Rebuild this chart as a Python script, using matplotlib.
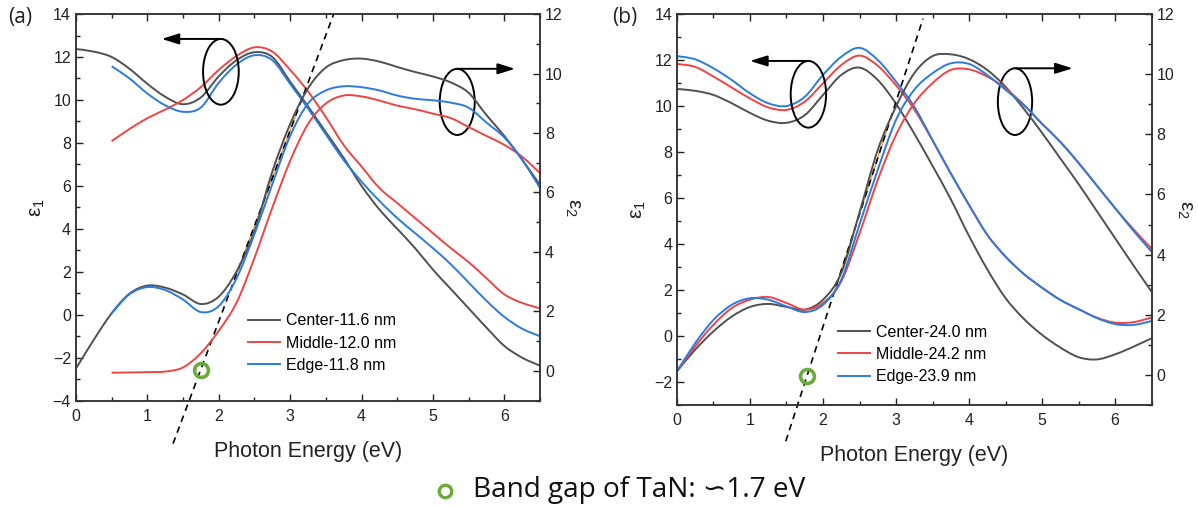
import matplotlib
matplotlib.use('Agg')
import matplotlib.pyplot as plt
from matplotlib.patches import Ellipse, PathPatch
from matplotlib.path import Path
from matplotlib.lines import Line2D
from matplotlib.ticker import MultipleLocator
import numpy as np

plt.rcParams['font.family'] = ['Liberation Sans', 'DejaVu Sans']
plt.rcParams['mathtext.fontset'] = 'custom'
plt.rcParams['mathtext.rm'] = 'Liberation Sans'
plt.rcParams['mathtext.it'] = 'Liberation Sans'

# photon energy grid (eV); some spectra only start at 0.5 eV
E_full = np.arange(0, 6.51, 0.25)
E_half = E_full[2:]

# ---- (a) ~12 nm films ----
a_eps1_center = [12.37, 12.25, 12.0, 11.45, 10.75, 10.15, 9.8, 10.12, 11.1, 11.85, 12.22, 12.0, 10.85,
                 9.7, 8.5, 7.3, 6.0, 4.9, 4.0, 3.1, 2.1, 1.2, 0.3, -0.6, -1.45, -2.0, -2.37]
a_eps1_middle = [8.08, 8.65, 9.15, 9.55, 10.0, 10.6, 11.4, 12.05, 12.45, 12.25, 11.4, 10.4, 9.2,
                 7.9, 6.9, 5.9, 5.2, 4.5, 3.8, 3.1, 2.45, 1.7, 0.95, 0.55, 0.3]
a_eps1_edge = [11.57, 11.0, 10.3, 9.75, 9.45, 9.65, 10.8, 11.65, 12.08, 11.85, 10.75, 9.6, 8.4,
               7.2, 6.2, 5.3, 4.5, 3.8, 3.1, 2.35, 1.5, 0.65, -0.1, -0.65, -1.0]
a_eps2_center = [0.08, 1.05, 1.94, 2.6, 2.87, 2.8, 2.57, 2.25, 2.5, 3.35, 4.7, 6.7, 8.3,
                 9.5, 10.2, 10.45, 10.5, 10.4, 10.22, 10.05, 9.9, 9.7, 9.35, 8.6, 7.9, 7.1, 6.25]
a_eps2_middle = [-0.06, -0.05, -0.04, -0.02, 0.12, 0.6, 1.35, 2.3, 3.8, 5.49, 7.06, 8.3, 8.99,
                 9.26, 9.23, 9.09, 8.92, 8.8, 8.65, 8.5, 8.2, 7.9, 7.6, 7.2, 6.65]
a_eps2_edge = [1.94, 2.58, 2.82, 2.72, 2.4, 1.98, 2.18, 3.12, 4.6, 6.28, 7.9, 8.99, 9.43,
               9.57, 9.54, 9.43, 9.26, 9.15, 9.1, 9.02, 8.85, 8.35, 7.85, 7.1, 6.15]
a_labels = ['Center-11.6 nm', 'Middle-12.0 nm', 'Edge-11.8 nm']
a_fit_E, a_fit_eps = [1.36, 3.61], [-6.0, 14.0]
a_gap = (1.75, -2.55)

# ---- (b) ~24 nm films ----
b_eps1_center = [10.74, 10.66, 10.48, 10.12, 9.7, 9.36, 9.27, 9.6, 10.48, 11.35, 11.67, 11.13, 10.1,
                 8.8, 7.4, 5.95, 4.35, 2.9, 1.65, 0.75, 0.05, -0.5, -0.92, -1.02, -0.8, -0.47, -0.1]
b_eps1_middle = [11.83, 11.7, 11.28, 10.8, 10.33, 9.94, 9.83, 10.19, 10.99, 11.78, 12.19, 11.75, 10.9,
                 9.85, 8.5, 7.07, 5.7, 4.4, 3.45, 2.7, 2.1, 1.57, 1.17, 0.8, 0.58, 0.6, 0.8]
b_eps1_edge = [12.17, 12.03, 11.64, 11.13, 10.55, 10.12, 10.0, 10.4, 11.35, 12.14, 12.53, 12.0, 11.06,
               9.97, 8.52, 7.07, 5.7, 4.4, 3.45, 2.7, 2.1, 1.57, 1.17, 0.78, 0.52, 0.48, 0.65]
b_eps2_center = [0.12, 0.84, 1.45, 1.94, 2.26, 2.36, 2.26, 2.17, 2.5, 3.39, 5.4, 7.48, 8.92,
                 10.03, 10.6, 10.66, 10.5, 10.14, 9.58, 8.85, 8.05, 7.2, 6.35, 5.45, 4.55, 3.65, 2.77]
b_eps2_middle = [0.12, 0.95, 1.67, 2.22, 2.5, 2.59, 2.39, 2.17, 2.39, 3.11, 4.7, 6.48, 7.98,
                 9.03, 9.7, 10.14, 10.16, 9.92, 9.53, 8.98, 8.35, 7.75, 7.05, 6.3, 5.55, 4.85, 4.2]
b_eps2_edge = [0.12, 1.06, 1.83, 2.33, 2.55, 2.5, 2.28, 2.09, 2.33, 3.16, 5.0, 6.82, 8.48,
               9.48, 10.03, 10.36, 10.34, 9.97, 9.48, 8.98, 8.35, 7.75, 7.05, 6.3, 5.55, 4.8, 4.1]
b_labels = ['Center-24.0 nm', 'Middle-24.2 nm', 'Edge-23.9 nm']
b_fit_E, b_fit_eps = [1.49, 3.37], [-4.58, 13.8]
b_gap = (1.78, -1.74)

colors = ['#505050', '#EE4444', '#2B7BDF']
green = '#6AAB3C'


def smooth_line(ax, x, y, color):
    # Catmull-Rom spline through the measured points, drawn as cubic Bezier segments
    pts = np.column_stack([x, y]).astype(float)
    ext = np.vstack([pts[0], pts, pts[-1]])
    verts, codes = [pts[0]], [Path.MOVETO]
    for i in range(len(pts) - 1):
        p0, p1, p2, p3 = ext[i], ext[i + 1], ext[i + 2], ext[i + 3]
        verts += [p1 + (p2 - p0) / 6, p2 - (p3 - p1) / 6, p2]
        codes += [Path.CURVE4] * 3
    ax.add_patch(PathPatch(Path(verts, codes), fill=False, ec=color, lw=1.4))


def draw_panel(ax, eps1, E1, eps2, E2, labels, ylim1, fit_E, fit_eps, gap,
               ell_l, ell_r, leg_xy):
    ax2 = ax.twinx()
    for y, x, c in zip(eps1, E1, colors):
        smooth_line(ax, x, y, c)
    for y, x, c in zip(eps2, E2, colors):
        smooth_line(ax2, x, y, c)

    ax.set_xlim(0, 6.5)
    ax.set_ylim(*ylim1)
    ax2.set_ylim(-1.0, 12)

    # linear extrapolation of the absorption edge
    seg = np.interp([2.0, 9.2], fit_eps, fit_E)
    ax.plot(seg, [2.0, 9.2], color='#E8A040', lw=1.0)
    ax.plot(fit_E, fit_eps, color='black', lw=1.2, ls=(0, (4, 3)), clip_on=False)
    ax.plot(*gap, 'o', mfc='none', mec=green, ms=10, mew=2.6, clip_on=False, zorder=5)

    # circles + arrows pointing to the matching axis
    for (cx, cy, w, h, tip) in (ell_l, ell_r):
        ax.add_patch(Ellipse((cx, cy), w, h, fill=False, ec='black', lw=1.4, zorder=5))
        ax.annotate('', xy=(tip, cy + h / 2), xytext=(cx, cy + h / 2),
                    arrowprops=dict(arrowstyle='-|>,head_length=0.8,head_width=0.25',
                                    color='black', lw=1.4, mutation_scale=13,
                                    shrinkA=0, shrinkB=0))

    ax.xaxis.set_major_locator(MultipleLocator(1))
    ax.xaxis.set_minor_locator(MultipleLocator(0.5))
    ax.yaxis.set_major_locator(MultipleLocator(2))
    ax.yaxis.set_minor_locator(MultipleLocator(1))
    ax2.yaxis.set_minor_locator(MultipleLocator(1))
    ax2.set_yticks(np.arange(0, 13, 2))

    for a in (ax, ax2):
        a.tick_params(which='both', direction='in', labelsize=11.5, width=1.0, colors='#222222')
        a.tick_params(which='major', length=5)
        a.tick_params(which='minor', length=3)
        for s in a.spines.values():
            s.set_linewidth(1.1)
            s.set_color('#333333')
    ax.tick_params(which='both', top=True, right=False)
    ax.tick_params(axis='x', pad=6)

    ax.set_xlabel('Photon Energy (eV)', fontsize=15.5, color='#222222', labelpad=12)
    ax.set_ylabel(r'$\varepsilon_1$', fontsize=15, color='#222222', labelpad=4)
    ax2.set_ylabel(r'$\varepsilon_2$', fontsize=15, color='#222222', rotation=270, labelpad=14)

    handles = [Line2D([], [], color=c, lw=1.4) for c in colors]
    ax2.legend(handles, labels, loc='upper left', bbox_to_anchor=leg_xy, frameon=False,
               fontsize=11.5, handlelength=2.0, handletextpad=0.4, labelspacing=0.45,
               borderpad=0, borderaxespad=0)
    return ax2


fig = plt.figure(figsize=(11.98, 5.08), dpi=100)
ax_a = fig.add_axes([0.0634, 0.2112, 0.3874, 0.7612])
ax_b = fig.add_axes([0.5651, 0.2028, 0.3961, 0.7696])

draw_panel(ax_a, [a_eps1_center, a_eps1_middle, a_eps1_edge], [E_full, E_half, E_half],
           [a_eps2_center, a_eps2_middle, a_eps2_edge], [E_full, E_half, E_half],
           a_labels, (-4, 14), a_fit_E, a_fit_eps, a_gap,
           (2.03, 11.31, 0.5, 3.06, 1.2), (5.34, 9.91, 0.49, 3.08, 6.15), (0.371, 0.226))
draw_panel(ax_b, [b_eps1_center, b_eps1_middle, b_eps1_edge], [E_full, E_full, E_full],
           [b_eps2_center, b_eps2_middle, b_eps2_edge], [E_full, E_full, E_full],
           b_labels, (-3, 14), b_fit_E, b_fit_eps, b_gap,
           (1.80, 10.51, 0.485, 2.9, 1.0), (4.63, 10.19, 0.47, 2.9, 5.42), (0.339, 0.205))

fig.text(8 / 1198, 1 - 18 / 508, '(a)', fontsize=15, va='center', color='#222222',
         family=['Open Sans', 'DejaVu Sans'])
fig.text(612 / 1198, 1 - 18 / 508, '(b)', fontsize=15, va='center', color='#222222',
         family=['Open Sans', 'DejaVu Sans'])

fig.add_artist(Line2D([445 / 1198], [1 - 491 / 508], transform=fig.transFigure, marker='o',
                      mfc='none', mec=green, ms=9, mew=2.4, ls='none'))
fig.text(473 / 1198, 1 - 490 / 508, 'Band gap of TaN: \u223d1.7 eV', fontsize=20.2, va='center',
         color='#111111', family=['Open Sans', 'DejaVu Sans'])

fig.savefig('out.png', dpi=100)
